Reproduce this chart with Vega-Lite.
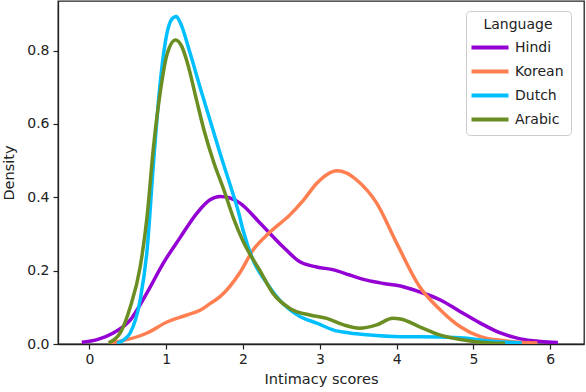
{
  "$schema": "https://vega.github.io/schema/vega-lite/v6.json",
  "width": 526,
  "height": 343,
  "autosize": {"type": "none"},
  "padding": {"left": 58, "top": 1, "right": 2, "bottom": 48},
  "background": "white",
  "config": {
    "font": "DejaVu Sans",
    "view": {"stroke": "#222222", "strokeWidth": 1.3},
    "axis": {
      "grid": false,
      "domainColor": "#222222",
      "domainWidth": 1.3,
      "tickColor": "#222222",
      "tickSize": 5,
      "tickWidth": 1.2,
      "labelFont": "DejaVu Sans",
      "labelFontSize": 14,
      "labelColor": "#222222",
      "titleFont": "DejaVu Sans",
      "titleFontSize": 14.5,
      "titleFontWeight": "normal",
      "titleColor": "#222222"
    }
  },
  "data": {
    "values": [
      {"Language": "Hindi", "x": -0.1, "y": 0.005},
      {"Language": "Hindi", "x": 0.1, "y": 0.012},
      {"Language": "Hindi", "x": 0.31, "y": 0.03},
      {"Language": "Hindi", "x": 0.53, "y": 0.065},
      {"Language": "Hindi", "x": 0.75, "y": 0.14},
      {"Language": "Hindi", "x": 0.96, "y": 0.22},
      {"Language": "Hindi", "x": 1.18, "y": 0.29},
      {"Language": "Hindi", "x": 1.4, "y": 0.357},
      {"Language": "Hindi", "x": 1.57, "y": 0.393},
      {"Language": "Hindi", "x": 1.7, "y": 0.402},
      {"Language": "Hindi", "x": 1.83, "y": 0.398},
      {"Language": "Hindi", "x": 1.96, "y": 0.384},
      {"Language": "Hindi", "x": 2.22, "y": 0.33},
      {"Language": "Hindi", "x": 2.52, "y": 0.265},
      {"Language": "Hindi", "x": 2.74, "y": 0.224},
      {"Language": "Hindi", "x": 2.96, "y": 0.21},
      {"Language": "Hindi", "x": 3.18, "y": 0.202},
      {"Language": "Hindi", "x": 3.39, "y": 0.188},
      {"Language": "Hindi", "x": 3.61, "y": 0.174},
      {"Language": "Hindi", "x": 3.83, "y": 0.165},
      {"Language": "Hindi", "x": 4.05, "y": 0.158},
      {"Language": "Hindi", "x": 4.3, "y": 0.142},
      {"Language": "Hindi", "x": 4.57, "y": 0.12},
      {"Language": "Hindi", "x": 4.83, "y": 0.088},
      {"Language": "Hindi", "x": 5.09, "y": 0.057},
      {"Language": "Hindi", "x": 5.35, "y": 0.03},
      {"Language": "Hindi", "x": 5.61, "y": 0.014},
      {"Language": "Hindi", "x": 5.87, "y": 0.007},
      {"Language": "Hindi", "x": 6.1, "y": 0.004},

      {"Language": "Korean", "x": 0.25, "y": 0.003},
      {"Language": "Korean", "x": 0.45, "y": 0.01},
      {"Language": "Korean", "x": 0.75, "y": 0.03},
      {"Language": "Korean", "x": 1.01, "y": 0.06},
      {"Language": "Korean", "x": 1.27, "y": 0.079},
      {"Language": "Korean", "x": 1.44, "y": 0.092},
      {"Language": "Korean", "x": 1.57, "y": 0.11},
      {"Language": "Korean", "x": 1.7, "y": 0.129},
      {"Language": "Korean", "x": 1.96, "y": 0.195},
      {"Language": "Korean", "x": 2.13, "y": 0.256},
      {"Language": "Korean", "x": 2.35, "y": 0.305},
      {"Language": "Korean", "x": 2.61, "y": 0.352},
      {"Language": "Korean", "x": 2.79, "y": 0.393},
      {"Language": "Korean", "x": 2.96, "y": 0.438},
      {"Language": "Korean", "x": 3.1, "y": 0.463},
      {"Language": "Korean", "x": 3.22, "y": 0.472},
      {"Language": "Korean", "x": 3.35, "y": 0.466},
      {"Language": "Korean", "x": 3.48, "y": 0.447},
      {"Language": "Korean", "x": 3.74, "y": 0.384},
      {"Language": "Korean", "x": 4.0, "y": 0.275},
      {"Language": "Korean", "x": 4.3, "y": 0.156},
      {"Language": "Korean", "x": 4.57, "y": 0.093},
      {"Language": "Korean", "x": 4.83, "y": 0.047},
      {"Language": "Korean", "x": 5.09, "y": 0.02},
      {"Language": "Korean", "x": 5.35, "y": 0.01},
      {"Language": "Korean", "x": 5.6, "y": 0.005},
      {"Language": "Korean", "x": 5.83, "y": 0.003},

      {"Language": "Dutch", "x": 0.36, "y": 0.002},
      {"Language": "Dutch", "x": 0.45, "y": 0.012},
      {"Language": "Dutch", "x": 0.53, "y": 0.03},
      {"Language": "Dutch", "x": 0.66, "y": 0.12},
      {"Language": "Dutch", "x": 0.75, "y": 0.256},
      {"Language": "Dutch", "x": 0.83, "y": 0.483},
      {"Language": "Dutch", "x": 0.92, "y": 0.71},
      {"Language": "Dutch", "x": 1.01, "y": 0.848},
      {"Language": "Dutch", "x": 1.07, "y": 0.885},
      {"Language": "Dutch", "x": 1.13, "y": 0.893},
      {"Language": "Dutch", "x": 1.18, "y": 0.877},
      {"Language": "Dutch", "x": 1.31, "y": 0.793},
      {"Language": "Dutch", "x": 1.44, "y": 0.7},
      {"Language": "Dutch", "x": 1.57, "y": 0.61},
      {"Language": "Dutch", "x": 1.7, "y": 0.52},
      {"Language": "Dutch", "x": 1.83, "y": 0.435},
      {"Language": "Dutch", "x": 1.94, "y": 0.36},
      {"Language": "Dutch", "x": 2.0, "y": 0.31},
      {"Language": "Dutch", "x": 2.13, "y": 0.229},
      {"Language": "Dutch", "x": 2.31, "y": 0.166},
      {"Language": "Dutch", "x": 2.52, "y": 0.11},
      {"Language": "Dutch", "x": 2.74, "y": 0.075},
      {"Language": "Dutch", "x": 2.96, "y": 0.057},
      {"Language": "Dutch", "x": 3.18, "y": 0.038},
      {"Language": "Dutch", "x": 3.39, "y": 0.03},
      {"Language": "Dutch", "x": 3.61, "y": 0.025},
      {"Language": "Dutch", "x": 4.05, "y": 0.02},
      {"Language": "Dutch", "x": 4.3, "y": 0.02},
      {"Language": "Dutch", "x": 4.83, "y": 0.017},
      {"Language": "Dutch", "x": 5.2, "y": 0.008},
      {"Language": "Dutch", "x": 5.63, "y": 0.003},

      {"Language": "Arabic", "x": 0.25, "y": 0.003},
      {"Language": "Arabic", "x": 0.4, "y": 0.03},
      {"Language": "Arabic", "x": 0.53, "y": 0.1},
      {"Language": "Arabic", "x": 0.66, "y": 0.21},
      {"Language": "Arabic", "x": 0.75, "y": 0.347},
      {"Language": "Arabic", "x": 0.83, "y": 0.53},
      {"Language": "Arabic", "x": 0.92, "y": 0.684},
      {"Language": "Arabic", "x": 1.01, "y": 0.79},
      {"Language": "Arabic", "x": 1.12, "y": 0.829},
      {"Language": "Arabic", "x": 1.2, "y": 0.812},
      {"Language": "Arabic", "x": 1.27, "y": 0.77},
      {"Language": "Arabic", "x": 1.4, "y": 0.66},
      {"Language": "Arabic", "x": 1.49, "y": 0.584},
      {"Language": "Arabic", "x": 1.62, "y": 0.494},
      {"Language": "Arabic", "x": 1.75, "y": 0.42},
      {"Language": "Arabic", "x": 1.87, "y": 0.346},
      {"Language": "Arabic", "x": 2.0, "y": 0.28},
      {"Language": "Arabic", "x": 2.22, "y": 0.2},
      {"Language": "Arabic", "x": 2.39, "y": 0.138},
      {"Language": "Arabic", "x": 2.61, "y": 0.097},
      {"Language": "Arabic", "x": 2.87, "y": 0.079},
      {"Language": "Arabic", "x": 3.09, "y": 0.07},
      {"Language": "Arabic", "x": 3.31, "y": 0.052},
      {"Language": "Arabic", "x": 3.52, "y": 0.043},
      {"Language": "Arabic", "x": 3.74, "y": 0.052},
      {"Language": "Arabic", "x": 3.95, "y": 0.07},
      {"Language": "Arabic", "x": 4.05, "y": 0.068},
      {"Language": "Arabic", "x": 4.3, "y": 0.047},
      {"Language": "Arabic", "x": 4.57, "y": 0.024},
      {"Language": "Arabic", "x": 4.83, "y": 0.012},
      {"Language": "Arabic", "x": 5.09, "y": 0.005},
      {"Language": "Arabic", "x": 5.41, "y": 0.002}
    ]
  },
  "mark": {"type": "line", "strokeWidth": 3.5, "interpolate": "monotone", "clip": true},
  "encoding": {
    "x": {
      "field": "x",
      "type": "quantitative",
      "scale": {"domain": [-0.41, 6.44], "nice": false, "zero": false},
      "axis": {"title": "Intimacy scores", "values": [0, 1, 2, 3, 4, 5, 6], "labelPadding": 3, "titlePadding": 6}
    },
    "y": {
      "field": "y",
      "type": "quantitative",
      "scale": {"domain": [0, 0.935], "nice": false},
      "axis": {"title": "Density", "values": [0, 0.2, 0.4, 0.6, 0.8], "format": ".1f", "labelPadding": 4, "titlePadding": 10}
    },
    "color": {
      "field": "Language",
      "type": "nominal",
      "scale": {
        "domain": ["Hindi", "Korean", "Dutch", "Arabic"],
        "range": ["#9400D3", "#FF7F50", "#00BFFF", "#6B8E23"]
      },
      "legend": {
        "orient": "none",
        "legendX": 408,
        "legendY": 10,
        "title": "Language",
        "titleFont": "DejaVu Sans",
        "titleFontSize": 14,
        "titleFontWeight": "normal",
        "titleColor": "#222222",
        "titleAnchor": "middle",
        "titleAlign": "center",
        "titlePadding": 4,
        "labelFont": "DejaVu Sans",
        "labelFontSize": 14,
        "labelColor": "#222222",
        "labelOffset": 13.5,
        "symbolType": "M-2,0H2",
        "symbolSize": 342,
        "symbolOffset": 5.5,
        "symbolStrokeWidth": 4,
        "rowPadding": 4,
        "padding": 7,
        "cornerRadius": 4,
        "strokeColor": "#cccccc",
        "fillColor": "white"
      }
    }
  }
}
